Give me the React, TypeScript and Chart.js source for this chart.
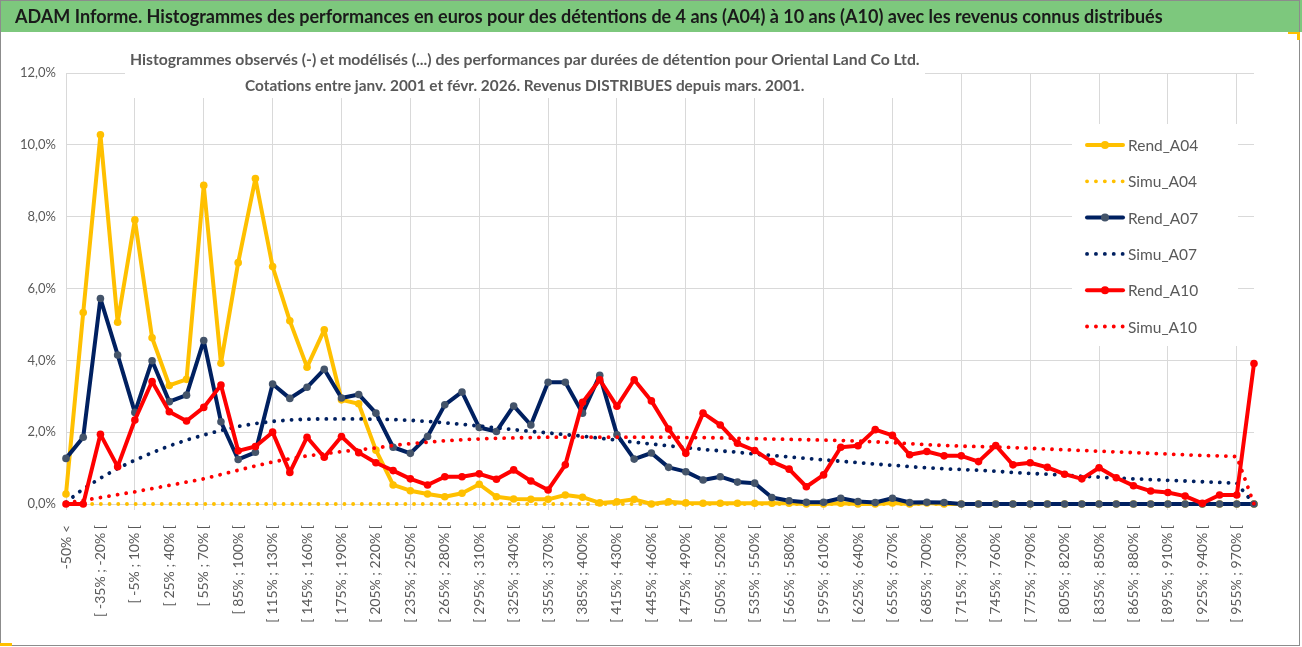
import React, { useEffect, useRef } from "react";
import { Chart, registerables } from "chart.js";

Chart.register(...registerables);

const headerText =
  "ADAM Informe. Histogrammes des performances en euros pour des détentions de 4 ans (A04) à 10 ans (A10) avec les revenus connus distribués";
const titleLine1 =
  "Histogrammes observés (-) et modélisés (...) des performances par durées de détention pour Oriental Land Co Ltd.";
const titleLine2 =
  "Cotations entre janv. 2001 et févr. 2026. Revenus DISTRIBUES depuis mars. 2001.";

const categories = [
  "-50% <", "[ -50% ; -35% [", "[ -35% ; -20% [", "[ -20% ; -5% [", "[ -5% ; 10% [",
  "[ 10% ; 25% [", "[ 25% ; 40% [", "[ 40% ; 55% [", "[ 55% ; 70% [", "[ 70% ; 85% [",
  "[ 85% ; 100% [", "[ 100% ; 115% [", "[ 115% ; 130% [", "[ 130% ; 145% [", "[ 145% ; 160% [",
  "[ 160% ; 175% [", "[ 175% ; 190% [", "[ 190% ; 205% [", "[ 205% ; 220% [", "[ 220% ; 235% [",
  "[ 235% ; 250% [", "[ 250% ; 265% [", "[ 265% ; 280% [", "[ 280% ; 295% [", "[ 295% ; 310% [",
  "[ 310% ; 325% [", "[ 325% ; 340% [", "[ 340% ; 355% [", "[ 355% ; 370% [", "[ 370% ; 385% [",
  "[ 385% ; 400% [", "[ 400% ; 415% [", "[ 415% ; 430% [", "[ 430% ; 445% [", "[ 445% ; 460% [",
  "[ 460% ; 475% [", "[ 475% ; 490% [", "[ 490% ; 505% [", "[ 505% ; 520% [", "[ 520% ; 535% [",
  "[ 535% ; 550% [", "[ 550% ; 565% [", "[ 565% ; 580% [", "[ 580% ; 595% [", "[ 595% ; 610% [",
  "[ 610% ; 625% [", "[ 625% ; 640% [", "[ 640% ; 655% [", "[ 655% ; 670% [", "[ 670% ; 685% [",
  "[ 685% ; 700% [", "[ 700% ; 715% [", "[ 715% ; 730% [", "[ 730% ; 745% [", "[ 745% ; 760% [",
  "[ 760% ; 775% [", "[ 775% ; 790% [", "[ 790% ; 805% [", "[ 805% ; 820% [", "[ 820% ; 835% [",
  "[ 835% ; 850% [", "[ 850% ; 865% [", "[ 865% ; 880% [", "[ 880% ; 895% [", "[ 895% ; 910% [",
  "[ 910% ; 925% [", "[ 925% ; 940% [", "[ 940% ; 955% [", "[ 955% ; 970% [", "[ 970% ; 985% [",
];

const rendA04 = [
  0.28, 5.33, 10.28, 5.06, 7.91, 4.63, 3.30, 3.47, 8.87, 3.92,
  6.72, 9.06, 6.61, 5.10, 3.81, 4.85, 2.90, 2.79, 1.50, 0.53,
  0.37, 0.28, 0.20, 0.30, 0.55, 0.20, 0.14, 0.13, 0.13, 0.25,
  0.19, 0.03, 0.06, 0.13, 0.0, 0.06, 0.03, 0.02, 0.02, 0.02,
  0.02, 0.02, 0.02, 0.0, 0.0, 0.02, 0.0, 0.0, 0.03, 0.0,
  0.03, 0.0, 0.0, 0.0, 0.0, 0.0, 0.0, 0.0, 0.0, 0.0,
  0.0, 0.0, 0.0, 0.0, 0.0, 0.0, 0.0, 0.0, 0.0, 0.0,
];
const simuA04 = [
  0, 0, 0, 0, 0, 0, 0, 0, 0, 0,
  0, 0, 0, 0, 0, 0, 0, 0, 0, 0,
  0, 0, 0, 0, 0, 0, 0, 0, 0, 0,
  0, 0, 0, 0, 0, 0, 0, 0, 0, 0,
  0, 0, 0, 0, 0, 0, 0, 0, 0, 0,
  0, 0, 0, 0, 0, 0, 0, 0, 0, 0,
  0, 0, 0, 0, 0, 0, 0, 0, 0, 0,
];
const rendA07 = [
  1.27, 1.86, 5.72, 4.15, 2.55, 3.99, 2.85, 3.03, 4.55, 2.29,
  1.24, 1.44, 3.34, 2.94, 3.25, 3.75, 2.95, 3.05, 2.53, 1.58,
  1.41, 1.88, 2.76, 3.12, 2.13, 2.02, 2.73, 2.20, 3.39, 3.39,
  2.53, 3.58, 1.93, 1.25, 1.42, 1.02, 0.90, 0.67, 0.76, 0.61,
  0.58, 0.18, 0.09, 0.05, 0.05, 0.16, 0.07, 0.04, 0.16, 0.04,
  0.05, 0.04, 0.0, 0.0, 0.0, 0.0, 0.0, 0.0, 0.0, 0.0,
  0.0, 0.0, 0.0, 0.0, 0.0, 0.0, 0.0, 0.0, 0.0, 0.0,
];
const simuA07 = [
  0.05, 0.42, 0.72, 0.99, 1.22, 1.43, 1.62, 1.78, 1.92, 2.05,
  2.16, 2.24, 2.30, 2.34, 2.36, 2.37, 2.37, 2.37, 2.36, 2.35,
  2.33, 2.30, 2.26, 2.22, 2.17, 2.12, 2.07, 2.02, 1.98, 1.93,
  1.89, 1.83, 1.78, 1.72, 1.67, 1.62, 1.57, 1.52, 1.48, 1.44,
  1.39, 1.35, 1.31, 1.27, 1.23, 1.19, 1.15, 1.11, 1.08, 1.04,
  1.01, 0.98, 0.96, 0.94, 0.91, 0.88, 0.85, 0.83, 0.80, 0.77,
  0.75, 0.72, 0.70, 0.68, 0.66, 0.64, 0.62, 0.60, 0.58, 0.0,
];
const rendA10 = [
  0.0, 0.0, 1.94, 1.04, 2.34, 3.41, 2.57, 2.31, 2.69, 3.31,
  1.48, 1.60, 2.00, 0.88, 1.86, 1.30, 1.88, 1.43, 1.15, 0.93,
  0.70, 0.53, 0.76, 0.76, 0.84, 0.69, 0.95, 0.64, 0.39, 1.09,
  2.83, 3.46, 2.72, 3.46, 2.87, 2.09, 1.41, 2.53, 2.20, 1.69,
  1.49, 1.18, 0.97, 0.48, 0.81, 1.58, 1.62, 2.07, 1.91, 1.37,
  1.46, 1.34, 1.34, 1.18, 1.63, 1.09, 1.15, 1.02, 0.83, 0.70,
  1.01, 0.73, 0.51, 0.36, 0.32, 0.22, 0.02, 0.25, 0.25, 3.91,
];
const simuA10 = [
  0.03, 0.10, 0.18, 0.26, 0.34, 0.43, 0.52, 0.61, 0.70, 0.82,
  0.94, 1.06, 1.17, 1.26, 1.34, 1.40, 1.46, 1.51, 1.56, 1.63,
  1.68, 1.72, 1.76, 1.79, 1.81, 1.83, 1.84, 1.85, 1.86, 1.86,
  1.86, 1.86, 1.86, 1.86, 1.86, 1.86, 1.85, 1.85, 1.84, 1.83,
  1.82, 1.81, 1.80, 1.79, 1.78, 1.77, 1.75, 1.73, 1.71, 1.68,
  1.65, 1.63, 1.61, 1.60, 1.59, 1.57, 1.55, 1.53, 1.51, 1.49,
  1.47, 1.45, 1.43, 1.41, 1.39, 1.37, 1.35, 1.34, 1.32, 0.0,
];

const YELLOW = "#FFC000";
const NAVY = "#002060";
const NAVY_MARK = "#44546A";
const RED = "#FF0000";
const GRID = "#d9d9d9";
const TEXT = "#595959";
const FONT = "Lato";

const seriesDefs = [
  { label: "Rend_A04", data: rendA04, color: YELLOW, mark: YELLOW, dotted: false, order: 6 },
  { label: "Simu_A04", data: simuA04, color: YELLOW, mark: YELLOW, dotted: true, order: 5 },
  { label: "Rend_A07", data: rendA07, color: NAVY, mark: NAVY_MARK, dotted: false, order: 4 },
  { label: "Simu_A07", data: simuA07, color: NAVY, mark: NAVY, dotted: true, order: 3 },
  { label: "Rend_A10", data: rendA10, color: RED, mark: RED, dotted: false, order: 2 },
  { label: "Simu_A10", data: simuA10, color: RED, mark: RED, dotted: true, order: 1 },
];

function fitText(ctx: CanvasRenderingContext2D, text: string, weight: string, target: number) {
  ctx.font = `${weight} 100px ${FONT}`;
  const w = ctx.measureText(text).width;
  const size = (100 * target) / w;
  ctx.font = `${weight} ${size}px ${FONT}`;
}

const decorPlugin = {
  id: "decor",
  beforeDraw(chart: any) {
    const ctx = chart.ctx;
    ctx.save();
    ctx.fillStyle = "#ffffff";
    ctx.fillRect(0, 0, chart.width, chart.height);
    ctx.restore();
  },
  afterDraw(chart: any) {
    const ctx: CanvasRenderingContext2D = chart.ctx;
    ctx.save();

    // chart title box
    ctx.fillStyle = "#ffffff";
    ctx.fillRect(125, 44, 800, 54);
    ctx.fillStyle = TEXT;
    ctx.textAlign = "left";
    ctx.textBaseline = "middle";
    fitText(ctx, titleLine1, "bold", 790);
    ctx.fillText(titleLine1, 130, 60);
    fitText(ctx, titleLine2, "bold", 560);
    ctx.fillText(titleLine2, 245, 86);

    // legend
    ctx.fillStyle = "#ffffff";
    ctx.fillRect(1072, 124, 166, 222);
    seriesDefs.forEach((s, i) => {
      const y = 145 + i * 36.3;
      ctx.save();
      ctx.strokeStyle = s.color;
      ctx.lineCap = "round";
      ctx.beginPath();
      if (s.dotted) {
        ctx.lineWidth = 3.8;
        ctx.setLineDash([0.1, 8.8]);
        ctx.moveTo(1087, y);
        ctx.lineTo(1124, y);
        ctx.stroke();
      } else {
        ctx.lineWidth = 4;
        ctx.moveTo(1087, y);
        ctx.lineTo(1123, y);
        ctx.stroke();
        ctx.fillStyle = s.mark;
        ctx.beginPath();
        ctx.arc(1105, y, 4, 0, Math.PI * 2);
        ctx.fill();
      }
      ctx.restore();
      ctx.fillStyle = TEXT;
      ctx.textAlign = "left";
      ctx.textBaseline = "middle";
      ctx.font = `15.5px ${FONT}`;
      ctx.fillText(s.label, 1128, y + 1);
    });

    // header bar
    ctx.fillStyle = "#7dc87d";
    ctx.fillRect(0, 0, chart.width, 32);
    ctx.fillStyle = "#1a1a1a";
    ctx.textAlign = "left";
    ctx.textBaseline = "middle";
    fitText(ctx, headerText, "bold", 1148);
    ctx.fillText(headerText, 15, 17);

    // outer border
    ctx.strokeStyle = "#8c8c8c";
    ctx.lineWidth = 1;
    ctx.strokeRect(0.5, 0.5, 1299, 645);
    ctx.fillStyle = "#FFC000";
    ctx.fillRect(0, 643, 12, 3);
    ctx.fillRect(1288, 32, 12, 2);
    ctx.fillRect(1297, 32, 3, 8);
    ctx.restore();
  },
};

export default function App() {
  const ref = useRef<HTMLCanvasElement | null>(null);

  useEffect(() => {
    document.body.style.margin = "0";
    if (!ref.current) return;
    const gridFn = (c: any) => (c.index % 4 === 0 ? GRID : "rgba(0,0,0,0)");
    const chart = new Chart(ref.current, {
      type: "line",
      data: {
        labels: categories,
        datasets: seriesDefs.map((s) => ({
          label: s.label,
          data: s.data,
          order: s.order,
          clip: false,
          borderColor: s.color,
          backgroundColor: s.mark,
          borderWidth: s.dotted ? 3.8 : 4,
          borderDash: s.dotted ? [0.1, 8.6] : [],
          borderCapStyle: s.dotted ? "round" : "butt",
          borderJoinStyle: "round",
          pointRadius: s.dotted ? 0 : 3.8,
          pointBorderWidth: 0,
          pointBackgroundColor: s.mark,
          pointBorderColor: s.mark,
          tension: 0,
          fill: false,
        })) as any,
      },
      options: {
        animation: false,
        responsive: true,
        maintainAspectRatio: false,
        layout: { padding: { top: 73, right: 48, left: 0, bottom: 0 } },
        plugins: {
          legend: { display: false },
          title: { display: false },
          tooltip: { enabled: false },
        },
        scales: {
          x: {
            type: "category",
            offset: false,
            border: { display: false },
            grid: {
              color: gridFn,
              tickColor: gridFn,
              drawTicks: true,
              tickLength: 6,
              lineWidth: 1,
            },
            ticks: {
              autoSkip: false,
              minRotation: 90,
              maxRotation: 90,
              padding: 15,
              color: TEXT,
              font: { family: FONT, size: 14 },
              callback: (_v: any, i: number) => (i % 2 === 0 ? categories[i] : ""),
            },
            afterFit: (s: any) => {
              s.height = 143;
            },
          },
          y: {
            min: 0,
            max: 12,
            border: { display: false },
            grid: { color: GRID, drawTicks: false, lineWidth: 1 },
            ticks: {
              stepSize: 2,
              padding: 10,
              color: TEXT,
              font: { family: FONT, size: 13 },
              callback: (v: any) => Number(v).toFixed(1).replace(".", ",") + "%",
            },
            afterFit: (s: any) => {
              s.width = 66;
            },
          },
        },
      } as any,
      plugins: [decorPlugin],
    });
    return () => chart.destroy();
  }, []);

  return (
    <div style={{ position: "fixed", left: 0, top: 0, width: 1302, height: 647, background: "#fff" }}>
      <canvas ref={ref} />
    </div>
  );
}
